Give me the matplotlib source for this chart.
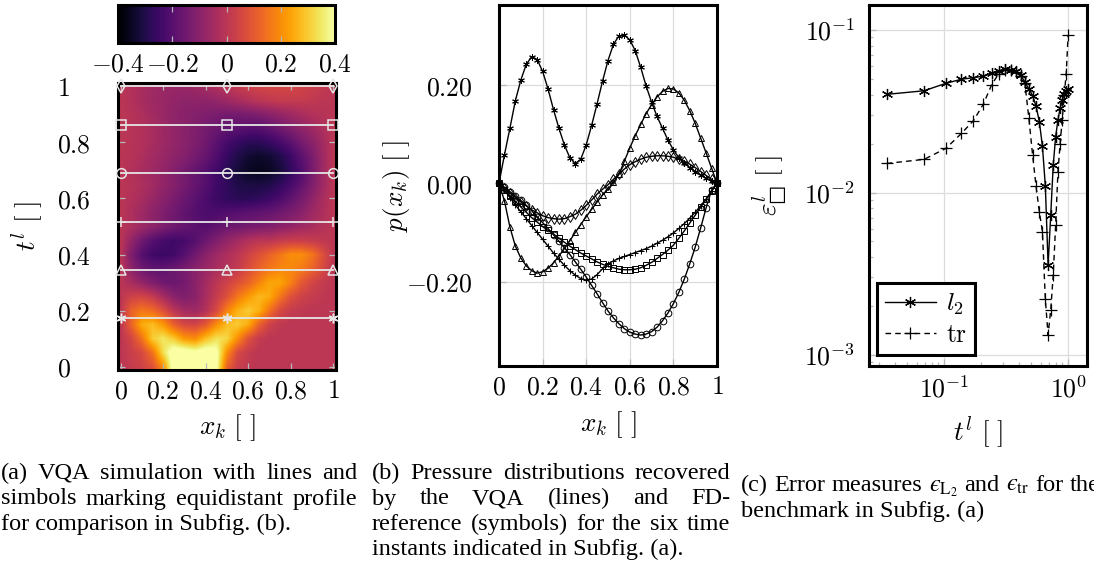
import numpy as np
import matplotlib
matplotlib.use('Agg')
import matplotlib.pyplot as plt

plt.rcParams['mathtext.fontset'] = 'cm'
plt.rcParams['font.family'] = 'DejaVu Serif'

# ---- (a) VQA field p(x, t) ----
x_grid = np.linspace(0, 1, 21)
t_grid = np.linspace(0, 1, 21)
field = [
    [0, 0.02, 0.04, 0.08, 0.2, 0.45, 0.55, 0.55, 0.52, 0.42, 0.12, 0.03, 0.01, 0, 0, 0, 0, 0, 0, 0, 0],
    [0, 0.03, 0.06, 0.15, 0.33, 0.45, 0.45, 0.42, 0.45, 0.42, 0.2, 0.06, 0.02, 0, 0, 0, 0, 0, 0, 0, 0],
    [0, 0.05, 0.15, 0.3, 0.35, 0.3, 0.22, 0.2, 0.28, 0.34, 0.32, 0.2, 0.08, 0.02, 0, 0, 0, 0, 0, 0, 0],
    [0, 0.12, 0.25, 0.28, 0.22, 0.12, 0.06, 0.05, 0.1, 0.2, 0.28, 0.3, 0.25, 0.12, 0.04, 0.01, 0, 0, 0, 0, 0],
    [0, 0.12, 0.16, 0.14, 0.08, 0.0, -0.05, -0.06, -0.02, 0.06, 0.18, 0.26, 0.3, 0.26, 0.15, 0.06, 0.02, 0.01, 0, 0, 0],
    [0, 0.04, 0.05, 0.02, -0.04, -0.1, -0.12, -0.1, -0.04, 0.02, 0.08, 0.16, 0.22, 0.27, 0.25, 0.16, 0.08, 0.04, 0.02, 0.01, 0],
    [0, -0.04, -0.08, -0.12, -0.15, -0.16, -0.14, -0.1, -0.05, 0.0, 0.04, 0.08, 0.12, 0.18, 0.24, 0.24, 0.18, 0.1, 0.05, 0.02, 0],
    [0, -0.089, -0.152, -0.178, -0.18, -0.162, -0.133, -0.1, -0.068, -0.038, -0.012, 0.018, 0.072, 0.12, 0.16, 0.187, 0.192, 0.169, 0.122, 0.062, 0],
    [0, -0.12, -0.2, -0.24, -0.25, -0.24, -0.2, -0.15, -0.1, -0.06, -0.03, 0.0, 0.04, 0.08, 0.12, 0.16, 0.2, 0.2, 0.16, 0.08, 0],
    [0, -0.08, -0.15, -0.2, -0.23, -0.24, -0.23, -0.2, -0.16, -0.12, -0.08, -0.05, -0.02, 0.0, 0.0, 0.02, 0.03, 0.03, 0.02, 0.01, 0],
    [0, -0.03, -0.06, -0.09, -0.12, -0.15, -0.17, -0.19, -0.2, -0.18, -0.16, -0.15, -0.14, -0.13, -0.12, -0.1, -0.08, -0.06, -0.04, -0.02, 0],
    [0, -0.03, -0.06, -0.09, -0.12, -0.15, -0.18, -0.2, -0.22, -0.22, -0.21, -0.2, -0.19, -0.18, -0.17, -0.15, -0.13, -0.1, -0.06, -0.03, 0],
    [0, -0.02, -0.04, -0.07, -0.1, -0.13, -0.16, -0.19, -0.22, -0.25, -0.27, -0.28, -0.28, -0.27, -0.25, -0.22, -0.18, -0.14, -0.09, -0.04, 0],
    [0, -0.01, -0.03, -0.05, -0.08, -0.11, -0.14, -0.17, -0.2, -0.24, -0.27, -0.3, -0.31, -0.31, -0.3, -0.27, -0.23, -0.18, -0.12, -0.06, 0],
    [0, -0.02, -0.04, -0.06, -0.08, -0.11, -0.14, -0.17, -0.2, -0.24, -0.28, -0.32, -0.35, -0.36, -0.35, -0.32, -0.27, -0.21, -0.14, -0.06, 0],
    [0, -0.01, -0.03, -0.05, -0.07, -0.09, -0.11, -0.14, -0.17, -0.21, -0.26, -0.3, -0.33, -0.34, -0.33, -0.3, -0.25, -0.19, -0.13, -0.06, 0],
    [0, -0.01, -0.02, -0.04, -0.06, -0.08, -0.1, -0.12, -0.15, -0.19, -0.23, -0.26, -0.28, -0.28, -0.26, -0.23, -0.19, -0.14, -0.1, -0.05, 0],
    [0, -0.01, -0.02, -0.04, -0.06, -0.08, -0.1, -0.12, -0.14, -0.16, -0.18, -0.19, -0.2, -0.2, -0.18, -0.15, -0.12, -0.09, -0.06, -0.03, 0],
    [0, -0.01, -0.03, -0.05, -0.07, -0.09, -0.1, -0.11, -0.12, -0.13, -0.14, -0.14, -0.13, -0.12, -0.1, -0.08, -0.06, -0.04, -0.02, -0.01, 0],
    [0, -0.02, -0.04, -0.06, -0.07, -0.08, -0.09, -0.09, -0.09, -0.08, -0.06, -0.04, -0.02, 0.0, 0.01, 0.02, 0.02, 0.02, 0.01, 0.0, 0],
    [0, -0.02, -0.038, -0.054, -0.066, -0.072, -0.072, -0.063, -0.045, -0.022, -0.003, 0.019, 0.038, 0.049, 0.055, 0.056, 0.053, 0.045, 0.032, 0.016, 0],
]
profile_t = [0.172, 0.345, 0.517, 0.690, 0.862, 1.0]
profile_x = [0.0, 0.5, 1.0]
profile_markers = [(6, 2, 0), '^', '+', 'o', 's', 'd']

# ---- (b) pressure profiles at the six instants ----
x_k = np.linspace(0, 1, 41)
p_star = [0, 0.058, 0.112, 0.168, 0.210, 0.242, 0.258, 0.252, 0.228, 0.192, 0.150, 0.112, 0.078, 0.052,
          0.040, 0.049, 0.078, 0.118, 0.162, 0.208, 0.250, 0.283, 0.300, 0.302, 0.292, 0.270, 0.236, 0.198,
          0.165, 0.136, 0.112, 0.088, 0.068, 0.052, 0.041, 0.032, 0.024, 0.017, 0.010, 0.005, 0.0]
p_tri = [0, -0.036, -0.089, -0.128, -0.152, -0.168, -0.178, -0.183, -0.180, -0.173, -0.162, -0.148, -0.133,
         -0.117, -0.100, -0.084, -0.068, -0.053, -0.038, -0.024, -0.012, 0.002, 0.018, 0.045, 0.072, 0.097,
         0.120, 0.142, 0.160, 0.176, 0.187, 0.193, 0.192, 0.184, 0.169, 0.148, 0.122, 0.092, 0.062, 0.031, 0.0]
p_plus = [0, -0.014, -0.029, -0.044, -0.058, -0.072, -0.086, -0.100, -0.114, -0.128, -0.142, -0.155, -0.167,
          -0.178, -0.187, -0.194, -0.197, -0.195, -0.186, -0.174, -0.164, -0.158, -0.153, -0.149, -0.145,
          -0.141, -0.137, -0.133, -0.128, -0.122, -0.116, -0.109, -0.101, -0.092, -0.082, -0.071, -0.059,
          -0.046, -0.032, -0.016, 0.0]
p_circ = [0, -0.008, -0.017, -0.026, -0.035, -0.045, -0.056, -0.068, -0.080, -0.092, -0.105, -0.118, -0.131,
          -0.145, -0.160, -0.175, -0.191, -0.208, -0.225, -0.243, -0.260, -0.274, -0.286, -0.296, -0.303,
          -0.307, -0.309, -0.307, -0.302, -0.293, -0.280, -0.264, -0.245, -0.222, -0.195, -0.164, -0.130,
          -0.091, -0.050, -0.014, 0.0]
p_sq = [0, -0.013, -0.025, -0.037, -0.048, -0.059, -0.070, -0.079, -0.088, -0.096, -0.103, -0.112, -0.120,
        -0.128, -0.135, -0.142, -0.148, -0.154, -0.160, -0.165, -0.169, -0.172, -0.175, -0.176, -0.176,
        -0.175, -0.172, -0.167, -0.161, -0.153, -0.145, -0.136, -0.126, -0.112, -0.097, -0.081, -0.065,
        -0.049, -0.033, -0.016, 0.0]
p_dia = [0, -0.010, -0.020, -0.029, -0.038, -0.046, -0.054, -0.060, -0.066, -0.070, -0.072, -0.073, -0.072,
         -0.068, -0.063, -0.055, -0.045, -0.034, -0.022, -0.012, -0.003, 0.008, 0.019, 0.029, 0.038, 0.044,
         0.049, 0.053, 0.055, 0.056, 0.056, 0.055, 0.053, 0.049, 0.045, 0.039, 0.032, 0.024, 0.016, 0.008, 0.0]
profiles = [p_star, p_tri, p_plus, p_circ, p_sq, p_dia]

# ---- (c) error measures ----
t_err = np.arange(1, 30) / 29
err_l2 = [0.0402, 0.0423, 0.0470, 0.0498, 0.0509, 0.0521, 0.0546, 0.0562, 0.0573, 0.0567, 0.0560, 0.0528,
          0.0479, 0.0434, 0.0395, 0.0340, 0.0272, 0.0193, 0.0110, 0.00358, 0.00728, 0.01476, 0.0220, 0.0279,
          0.0331, 0.0371, 0.0404, 0.0421, 0.0434]
err_tr = [0.0151, 0.0160, 0.0187, 0.0231, 0.0277, 0.0349, 0.0459, 0.0540, 0.0570, 0.0565, 0.0550, 0.0520,
          0.0470, 0.0286, 0.0170, 0.0109, 0.0076, 0.00574, 0.0022, 0.00133, 0.0019, 0.0031, 0.0063, 0.0133,
          0.0200, 0.0280, 0.0400, 0.0540, 0.0930]

W, H = 1094, 567
fig = plt.figure(figsize=(W / 100, H / 100), dpi=100)


def box(l, t, r, b):
    return [l / W, 1 - b / H, (r - l) / W, (b - t) / H]


ax_a = fig.add_axes(box(118, 83, 336, 370))
cax = fig.add_axes(box(118, 5, 335, 43))
ax_b = fig.add_axes(box(499, 5, 717, 366))
ax_c = fig.add_axes(box(869, 5, 1087, 366))

tick_col = '#b8b8b8'
grid_col = '#dcdcdc'
fs = 18.5
lfs = 19.5

# (a) heatmap
dx = (x_grid[1] - x_grid[0]) / 2
dt = (t_grid[1] - t_grid[0]) / 2
im = ax_a.imshow(np.array(field), origin='lower', cmap='inferno', vmin=-0.4, vmax=0.4, aspect='auto',
                 interpolation='bilinear',
                 extent=[x_grid[0] - dx, x_grid[-1] + dx, t_grid[0] - dt, t_grid[-1] + dt])
for t, m in zip(profile_t, profile_markers):
    ax_a.plot(profile_x, [t] * len(profile_x), color='#e6e6e6', lw=1.3, marker=m, ms=7,
              mfc='none', mec='#e6e6e6', mew=1.1, clip_on=False, zorder=3)
ax_a.set_xlim(-0.012, 1.012)
ax_a.set_ylim(-0.012, 1.012)
ticks = [0, 0.2, 0.4, 0.6, 0.8, 1]
ax_a.set_xticks(ticks)
ax_a.set_xticklabels([r'$0$', r'$0.2$', r'$0.4$', r'$0.6$', r'$0.8$', r'$1$'])
ax_a.set_yticks(ticks)
ax_a.set_yticklabels([r'$0$', r'$0.2$', r'$0.4$', r'$0.6$', r'$0.8$', r'$1$'])
ax_a.tick_params(direction='in', color=tick_col, length=5, width=0.9, labelsize=fs,
                 top=True, right=True)
ax_a.tick_params(axis='x', pad=6)
ax_a.tick_params(axis='y', pad=44)
for lab in ax_a.get_yticklabels():
    lab.set_horizontalalignment('left')
ax_a.set_xlabel(r'$x_k\ [\ ]$', fontsize=lfs, va='center')
ax_a.xaxis.set_label_coords(0.5, (370 - 428) / 287)
ax_a.set_ylabel(r'$t^l\ [\ ]$', fontsize=lfs, va='center')
ax_a.yaxis.set_label_coords((27 - 118) / 218, 0.5)

cb = fig.colorbar(im, cax=cax, orientation='horizontal')
cb.set_ticks([-0.4, -0.2, 0, 0.2, 0.4])
cb.set_ticklabels([r'$-0.4$', r'$-0.2$', r'$0$', r'$0.2$', r'$0.4$'])
cax.tick_params(direction='in', color=tick_col, length=5, width=0.9, labelsize=fs,
                top=True, bottom=True, pad=6)
cb.outline.set_linewidth(2.2)

# (b) profiles
for p, m in zip(profiles, profile_markers):
    ax_b.plot(x_k, p, color='black', lw=1.0, zorder=3)
    ax_b.plot(x_k, p, ls='none', marker=m, ms=4.8, mfc='none', mec='black', mew=0.7,
              clip_on=False, zorder=4)
ax_b.set_xlim(0, 1)
ax_b.set_ylim(-0.372, 0.363)
ax_b.set_xticks(ticks)
ax_b.set_xticklabels([r'$0$', r'$0.2$', r'$0.4$', r'$0.6$', r'$0.8$', r'$1$'])
ax_b.set_yticks([-0.2, 0, 0.2])
ax_b.set_yticklabels([r'$-0.20$', r'$0.00$', r'$0.20$'])
ax_b.grid(True, color=grid_col, lw=0.9)
ax_b.set_axisbelow(True)
ax_b.tick_params(direction='in', color=tick_col, length=5, width=0.9, labelsize=fs)
ax_b.tick_params(axis='x', pad=6)
ax_b.tick_params(axis='y', pad=19)
ax_b.set_xlabel(r'$x_k\ [\ ]$', fontsize=lfs, va='center')
ax_b.xaxis.set_label_coords(0.5, (366 - 425) / 361)
ax_b.set_ylabel(r'$p(x_k)\ [\ ]$', fontsize=lfs, va='center')
ax_b.yaxis.set_label_coords((397 - 499) / 218, 0.5)

# (c) errors
ax_c.plot(t_err, err_l2, color='black', lw=1.0, marker=(6, 2, 0), ms=8, mew=0.9, label=r'$l_2$')
ax_c.plot(t_err, err_tr, color='black', lw=1.0, ls=(0, (4, 3)), marker='+', ms=8, mew=0.9,
          label=r'$\mathrm{tr}$')
ax_c.set_xscale('log')
ax_c.set_yscale('log')
ax_c.set_xlim(0.0248, 1.42)
ax_c.set_ylim(8.56e-4, 0.1426)
ax_c.set_xticks([0.1, 1])
ax_c.set_xticklabels([r'$10^{-1}$', r'$10^{0}$'])
ax_c.set_yticks([1e-3, 1e-2, 1e-1])
ax_c.set_yticklabels([r'$10^{-3}$', r'$10^{-2}$', r'$10^{-1}$'])
ax_c.grid(True, which='major', color=grid_col, lw=0.9)
ax_c.set_axisbelow(True)
ax_c.tick_params(which='both', direction='in', color=tick_col, width=0.9, labelsize=fs)
ax_c.tick_params(which='major', length=5)
ax_c.tick_params(which='minor', length=3)
ax_c.tick_params(axis='x', pad=7)
ax_c.tick_params(axis='y', pad=10)
ax_c.set_xlabel(r'$t^l\ [\ ]$', fontsize=lfs, va='center')
ax_c.xaxis.set_label_coords(0.5, (366 - 432) / 361)
ax_c.set_ylabel('$\\varepsilon^l_{\u25a1}\\ [\\ ]$', fontsize=lfs, va='center')
ax_c.yaxis.set_label_coords((770 - 869) / 218, 0.5)
leg = ax_c.legend(loc='lower left', bbox_to_anchor=(8 / 218, 11 / 361), borderaxespad=0,
                  fontsize=fs, fancybox=False, framealpha=1, edgecolor='black',
                  handlelength=2.0, handletextpad=0.4, borderpad=0.3, labelspacing=0.2)
leg.get_frame().set_linewidth(2.2)

for ax in (ax_a, ax_b, ax_c):
    for s in ax.spines.values():
        s.set_linewidth(2.2)

# captions, justified like the LaTeX subcaptions
cap_kw = dict(fontsize=17.5, family='Liberation Serif', math_fontfamily='stix', va='baseline')
renderer = fig.canvas.get_renderer()


def caption(lines, x0, x1, y_first, dy=25.5):
    for i, line in enumerate(lines):
        yb = 1 - (y_first + i * dy) / H
        words = line.split(' ')
        if i == len(lines) - 1:
            fig.text(x0 / W, yb, line, **cap_kw)
            continue
        texts = [fig.text(0, yb, w, **cap_kw) for w in words]
        widths = [t.get_window_extent(renderer).width for t in texts]
        gap = (x1 - x0 - sum(widths)) / (len(words) - 1)
        x = x0
        for t, w in zip(texts, widths):
            t.set_x(x / W)
            x += w + gap


caption(['(a) VQA simulation with lines and',
         'simbols marking equidistant profile',
         'for comparison in Subfig. (b).'], 1, 357, 479)
caption(['(b) Pressure distributions recovered',
         'by the VQA (lines) and FD-',
         'reference (symbols) for the six time',
         'instants indicated in Subfig. (a).'], 372, 730, 479)
caption(['(c) Error measures $\u03f5_{\\mathrm{L}_2}$ and $\u03f5_{\\mathrm{tr}}$ for the',
         'benchmark in Subfig. (a)'], 741, 1100, 491)

fig.savefig('out.png', dpi=100)
